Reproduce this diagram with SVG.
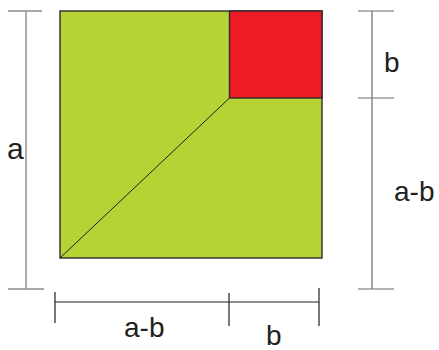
<svg xmlns="http://www.w3.org/2000/svg" width="439" height="350" viewBox="0 0 439 350">
<style>
text{font-family:"Liberation Sans",Arial,sans-serif;font-size:28px;fill:#231f20}
.dimg{stroke:#8c8c8c;stroke-width:1.4;fill:none}
.dimr{stroke:#6d6d6d;stroke-width:1.2;fill:none}
.dimb{stroke:#231f20;stroke-width:1.2;fill:none}
.edge{stroke:#2b2b2b;stroke-width:1.4}
</style>
<rect width="439" height="350" fill="#fff"/>
<g id="big-square"><rect x="60" y="11" width="262" height="247" fill="#b5d334" class="edge"/></g>
<g id="small-square"><rect x="229.5" y="11" width="92.5" height="87" fill="#ed1c24" class="edge"/></g>
<g id="connectors">
<line x1="60" y1="258" x2="229.5" y2="98" stroke="#231f20" stroke-width="1"/>
<path class="dimg" d="M8 11H42M26 11V289M8 289H44"/>
<path class="dimr" d="M358 11H394M372 11V289M358 98H394M358 289H394"/>
<path class="dimb" d="M55 302H319M55 292V323M229 293V326M319 288V326"/>
</g>
<g id="labels">
<text x="7" y="159" style="font-size:30px">a</text>
<text x="384" y="72">b</text>
<text x="394" y="201">a-b</text>
<text x="124" y="337">a-b</text>
<text x="266" y="345">b</text>
</g>
</svg>
